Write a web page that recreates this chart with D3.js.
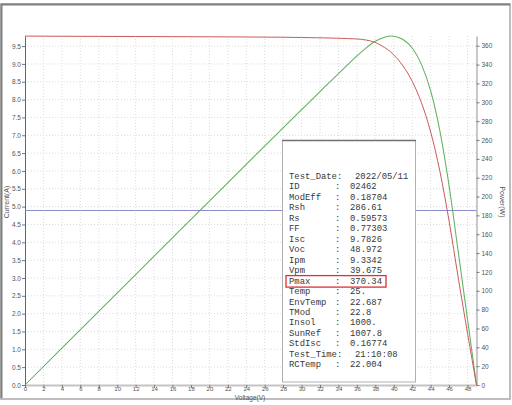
<!DOCTYPE html>
<html><head><meta charset="utf-8">
<script src="https://cdn.jsdelivr.net/npm/d3@7"></script>
<style>
html,body{margin:0;padding:0;background:#fff;}
svg{display:block;}
</style></head>
<body>
<script>
// ---- data ----
const voltage = [0, 4, 8, 12, 16, 20, 24, 28, 30, 32, 34, 35, 36, 37, 38, 39, 39.675, 40, 41, 42, 43, 44, 45, 46, 47, 48, 48.972];
const current = [9.78, 9.776, 9.772, 9.768, 9.764, 9.76, 9.755, 9.748, 9.74, 9.732, 9.72, 9.71, 9.70, 9.67, 9.60, 9.46, 9.334, 9.253, 8.943, 8.513, 7.913, 7.093, 5.993, 4.593, 2.993, 1.45, 0];
const power = [0, 39.10, 78.18, 117.22, 156.22, 195.2, 234.12, 272.94, 292.2, 311.42, 330.48, 339.85, 349.2, 357.79, 364.8, 368.94, 370.34, 370.12, 366.66, 357.55, 340.26, 312.09, 269.69, 211.28, 140.67, 69.6, 0];
const halfIsc = [4.8913];
const xTicks = d3.range(0, 49, 2);
const yTicksA = d3.range(0, 9.51, 0.5);
const yTicksW = d3.range(0, 361, 20);
const infoLabels = ["Test_Date:", "ID", "ModEff", "Rsh", "Rs", "FF", "Isc", "Voc", "Ipm", "Vpm", "Pmax", "Temp", "EnvTemp", "TMod", "Insol", "SunRef", "StdIsc", "Test_Time:", "RCTemp"];
const infoValues = ["2022/05/11", "02462", "0.18704", "286.61", "0.59573", "0.77303", "9.7826", "48.972", "9.3342", "39.675", "370.34", "25.", "22.687", "22.8", "1000.", "1007.8", "0.16774", "21:10:08", "22.004"];
const highlightRow = "Pmax";

// ---- drawing ----
const W = 512, H = 405;
const svg = d3.select("body").append("svg").attr("width", W).attr("height", H);

// outer frame
svg.append("rect").attr("x", 1).attr("y", 4).attr("width", 509).attr("height", 395)
  .attr("fill", "#fff").attr("stroke", "#a8a8a8").attr("stroke-width", 1.5);
svg.append("path").attr("d", "M1.5,398 V4.5 H510").attr("fill", "none").attr("stroke", "#808080").attr("stroke-width", 2);

const x = d3.scaleLinear().domain([0, 48.972]).range([25, 476.5]);
const yA = d3.scaleLinear().domain([0, 9.7826]).range([385, 36]);
const yW = d3.scaleLinear().domain([0, 370.34]).range([385, 36]);

// grid
const grid = svg.append("g");
grid.selectAll("line.gx").data(xTicks.filter(d => d > 0)).join("line").attr("class", "gx")
  .attr("x1", d => x(d)).attr("x2", d => x(d)).attr("y1", yA(0)).attr("y2", 36)
  .attr("stroke", "#dcdcdc").attr("stroke-dasharray", "1,2");
grid.selectAll("line.gy").data(yTicksA.filter(d => d > 0)).join("line").attr("class", "gy")
  .attr("x1", x(0)).attr("x2", x(48.972)).attr("y1", d => yA(d)).attr("y2", d => yA(d))
  .attr("stroke", "#dcdcdc").attr("stroke-dasharray", "1,2");

const tickFont = "Liberation Sans, Arial, sans-serif";

// axes
const gx = svg.append("g").attr("transform", `translate(0,${yA(0)})`)
  .call(d3.axisBottom(x).tickValues(xTicks).tickSize(3).tickSizeOuter(0).tickFormat(d3.format("d")));
const gl = svg.append("g").attr("transform", `translate(${x(0)},0)`)
  .call(d3.axisLeft(yA).tickValues(yTicksA).tickSize(3).tickSizeOuter(0).tickFormat(d3.format(".1f")));
const gr = svg.append("g").attr("transform", `translate(${x(48.972)},0)`)
  .call(d3.axisRight(yW).tickValues(yTicksW).tickSize(3).tickSizeOuter(0).tickFormat(d3.format("d")));
[gx, gl, gr].forEach(g => {
  g.selectAll("text").attr("font-family", tickFont).attr("font-size", 6.5).attr("fill", "#555");
  g.selectAll(".tick line").attr("stroke", "#777");
});
gx.select(".domain").attr("stroke", "#c4c4c4").attr("stroke-width", 2);
gr.select(".domain").attr("stroke", "#c8c8c8").attr("stroke-width", 2);
gl.select(".domain").attr("stroke", "#666").attr("stroke-width", 1);
gx.selectAll("text").attr("font-size", 6).attr("y", 3.5).attr("dy", "0.35em");
gr.selectAll("text").attr("x", 5);
gl.selectAll("text").attr("x", -4);

// axis titles
svg.append("text").attr("x", 250).attr("y", 399.5).attr("text-anchor", "middle")
  .attr("font-family", tickFont).attr("font-size", 6.5).attr("fill", "#555").text("Voltage(V)");
svg.append("text").attr("transform", "translate(9,202) rotate(-90)").attr("text-anchor", "middle")
  .attr("font-family", tickFont).attr("font-size", 7).attr("fill", "#555").text("Current(A)");
svg.append("text").attr("transform", "translate(500,202) rotate(90)").attr("text-anchor", "middle")
  .attr("font-family", tickFont).attr("font-size", 7).attr("fill", "#555").text("Power(W)");

// half Isc line
svg.selectAll("line.half").data(halfIsc).join("line").attr("class", "half")
  .attr("x1", x(0)).attr("x2", x(48.972)).attr("y1", d => yA(d)).attr("y2", d => yA(d))
  .attr("stroke", "#8c8cd0").attr("stroke-width", 1.1);

const pts = voltage.map((v, i) => ({v, i: current[i], p: power[i]}));
svg.append("path").datum(pts)
  .attr("d", d3.line().x(d => x(d.v)).y(d => yW(d.p)).curve(d3.curveMonotoneX))
  .attr("fill", "none").attr("stroke", "#62b062").attr("stroke-width", 1.05);
svg.append("path").datum(pts)
  .attr("d", d3.line().x(d => x(d.v)).y(d => yA(d.i)).curve(d3.curveMonotoneX))
  .attr("fill", "none").attr("stroke", "#cc5a5a").attr("stroke-width", 1);

// info box
const box = svg.append("g");
box.append("rect").attr("x", 282.5).attr("y", 140.5).attr("width", 133).attr("height", 241.5)
  .attr("fill", "#fff").attr("stroke", "#b0b0b0").attr("stroke-width", 1);
box.append("line").attr("x1", 282).attr("x2", 416).attr("y1", 140.5).attr("y2", 140.5)
  .attr("stroke", "#707070").attr("stroke-width", 1.5);
const mono = "Liberation Mono, Courier New, monospace";
const fs = 8.9;
const rowY = i => 179 + i * 10.46;
infoLabels.forEach((lab, i) => {
  const full = lab.endsWith(":");
  box.append("text").attr("x", 289).attr("y", rowY(i)).attr("font-family", mono).attr("font-size", fs)
    .attr("fill", "#383838").text(lab);
  if (!full) box.append("text").attr("x", 335).attr("y", rowY(i)).attr("font-family", mono).attr("font-size", fs)
    .attr("fill", "#383838").text(":");
  box.append("text").attr("x", full ? 355 : 350).attr("y", rowY(i)).attr("font-family", mono).attr("font-size", fs)
    .attr("fill", "#383838").text(infoValues[i]);
});
const hi = infoLabels.indexOf(highlightRow);
box.append("rect").attr("x", 286).attr("y", rowY(hi) - 8).attr("width", 100).attr("height", 11.5)
  .attr("fill", "none").attr("stroke", "#e03030").attr("stroke-width", 1.3);
</script>
</body></html>
